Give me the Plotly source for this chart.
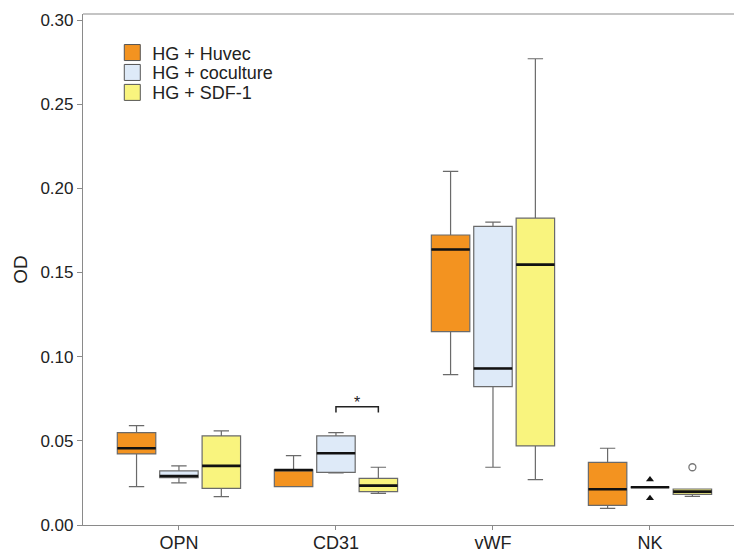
import plotly.graph_objects as go

# ---------------- data ----------------
categories = ["OPN", "CD31", "vWF", "NK"]
series_names = ["HG + Huvec", "HG + coculture", "HG + SDF-1"]

huvec_lower = [0.0228, 0.0228, 0.0893, 0.0099]
huvec_q1 = [0.0422, 0.0228, 0.1149, 0.0117]
huvec_median = [0.0456, 0.0327, 0.1637, 0.0212]
huvec_q3 = [0.0549, 0.0327, 0.1723, 0.0372]
huvec_upper = [0.0590, 0.0412, 0.2101, 0.0456]

cocult_lower = [0.0250, 0.0310, 0.0343, 0.0224]
cocult_q1 = [0.0281, 0.0313, 0.0822, 0.0224]
cocult_median = [0.0291, 0.0426, 0.0930, 0.0224]
cocult_q3 = [0.0321, 0.0529, 0.1774, 0.0224]
cocult_upper = [0.0351, 0.0549, 0.1799, 0.0224]

sdf_lower = [0.0168, 0.0188, 0.0270, 0.0170]
sdf_q1 = [0.0218, 0.0198, 0.0470, 0.0182]
sdf_median = [0.0351, 0.0234, 0.1547, 0.0198]
sdf_q3 = [0.0529, 0.0277, 0.1823, 0.0214]
sdf_upper = [0.0559, 0.0343, 0.2770, 0.0214]

# outliers
cocult_extreme_cat = ["NK", "NK"]
cocult_extreme_val = [0.0271, 0.0159]
sdf_outlier_cat = ["NK"]
sdf_outlier_val = [0.0343]

# significance bracket (between coculture and SDF-1 in CD31)
sig_category = "CD31"
sig_series = ["HG + coculture", "HG + SDF-1"]
sig_y = 0.0703
sig_label = "*"

y_ticks = [0.00, 0.05, 0.10, 0.15, 0.20, 0.25, 0.30]

# ---------------- style ----------------
fills = ["#F39320", "#DEEAF8", "#F9F47E"]
outline = "#6a6a6a"
offsets = [-0.27, 0.0, 0.27]
box_w = 0.245
FONT = "Liberation Sans, Arial, sans-serif"
legend_y = [0.924, 0.885, 0.846]

stats = [
    (huvec_lower, huvec_q1, huvec_median, huvec_q3, huvec_upper),
    (cocult_lower, cocult_q1, cocult_median, cocult_q3, cocult_upper),
    (sdf_lower, sdf_q1, sdf_median, sdf_q3, sdf_upper),
]

fig = go.Figure()
base_x = list(range(len(categories)))

for k, (lo, q1, med, q3, up) in enumerate(stats):
    xs = [b + offsets[k] for b in base_x]
    fig.add_trace(go.Box(
        x=xs, lowerfence=lo, q1=q1, median=med, q3=q3, upperfence=up,
        width=box_w, whiskerwidth=0.4,
        fillcolor=fills[k], line=dict(color=outline, width=1.2),
        boxpoints=False, showlegend=False, hoverinfo="skip",
    ))
    # thick black median line
    fig.add_trace(go.Box(
        x=xs, lowerfence=med, q1=med, median=med, q3=med, upperfence=med,
        width=box_w, whiskerwidth=0,
        fillcolor="rgba(0,0,0,0)", line=dict(color="#111111", width=2.6),
        boxpoints=False, showlegend=False, hoverinfo="skip",
    ))

# outliers
fig.add_trace(go.Scatter(
    x=[categories.index(c) + offsets[1] for c in cocult_extreme_cat],
    y=cocult_extreme_val, mode="markers",
    marker=dict(symbol="triangle-up", size=7, color="#111111"),
    showlegend=False, hoverinfo="skip",
))
fig.add_trace(go.Scatter(
    x=[categories.index(c) + offsets[2] for c in sdf_outlier_cat],
    y=sdf_outlier_val, mode="markers",
    marker=dict(symbol="circle-open", size=7, color="#777777", line=dict(width=1.3)),
    showlegend=False, hoverinfo="skip",
))

# significance bracket
ci = categories.index(sig_category)
x_a = ci + offsets[series_names.index(sig_series[0])]
x_b = ci + offsets[series_names.index(sig_series[1])]
drop = 0.0035
fig.add_trace(go.Scatter(
    x=[x_a, x_a, x_b, x_b], y=[sig_y - drop, sig_y, sig_y, sig_y - drop],
    mode="lines", line=dict(color="#222222", width=1.5),
    showlegend=False, hoverinfo="skip",
))
fig.add_annotation(x=(x_a + x_b) / 2, y=sig_y, text=sig_label, showarrow=False,
                   yanchor="bottom", yshift=-6, font=dict(family=FONT, size=16, color="#222"))

# top frame line
fig.add_shape(type="line", xref="paper", yref="paper", x0=0, x1=1, y0=1, y1=1,
              line=dict(color="#8a8a8a", width=1.2))

# legend entries (one small legend per series for tight spacing)
legend_keys = ["legend", "legend2", "legend3"]
for k, name in enumerate(series_names):
    fig.add_trace(go.Scatter(
        x=[None], y=[None], mode="markers", name=name, legend=legend_keys[k],
        marker=dict(symbol="square", size=16, color=fills[k],
                    line=dict(color="#555555", width=1)),
    ))

legend_common = dict(x=0.045, xanchor="left", yanchor="middle",
                     bgcolor="rgba(0,0,0,0)", font=dict(size=18, color="#222222"),
                     itemwidth=30)

fig.update_layout(
    width=734, height=554,
    margin=dict(l=83, r=0, t=14, b=29),
    paper_bgcolor="white", plot_bgcolor="white",
    boxmode="overlay",
    font=dict(family=FONT, size=16, color="#222222"),
    legend=dict(y=legend_y[0], **legend_common),
    legend2=dict(y=legend_y[1], **legend_common),
    legend3=dict(y=legend_y[2], **legend_common),
    xaxis=dict(
        range=[-0.611, 3.535], tickvals=base_x, ticktext=categories,
        showgrid=False, zeroline=False, showline=True, linecolor="#8a8a8a",
        linewidth=1.2, mirror=False, ticks="outside", ticklen=4, tickcolor="#8a8a8a",
        tickfont=dict(size=18, color="#222222"), automargin=False,
        ticklabelstandoff=-3,
    ),
    yaxis=dict(
        range=[0, 0.3036], tickvals=y_ticks, tickformat=".2f",
        showgrid=False, zeroline=False, showline=True, linecolor="#8a8a8a",
        linewidth=1.2, ticks="outside", ticklen=5, tickcolor="#8a8a8a",
        tickfont=dict(size=17, color="#222222"), automargin=False,
        title=dict(text="OD", font=dict(size=19, color="#222222"), standoff=7),
    ),
)

fig.write_html(
    "out.html",
    config={"displayModeBar": False},
    post_script="document.body.style.margin='0px';document.body.style.overflow='hidden';",
)
